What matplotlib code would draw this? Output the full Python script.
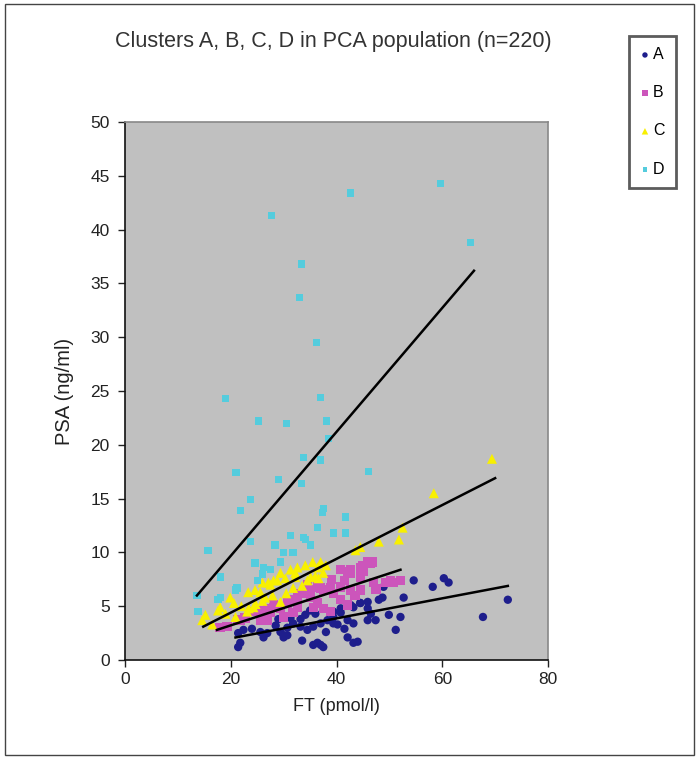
import matplotlib
matplotlib.use('Agg')
import matplotlib.pyplot as plt
from matplotlib.patches import Rectangle


# Clusters A, B, C, D: FT vs PSA scatter with a linear trend line per cluster

title = 'Clusters A, B, C, D in PCA population (n=220)'
labels = ['A', 'B', 'C', 'D']

a_ft = [21.4, 21.8, 22.4, 21.4, 25.6, 26.9, 29.4, 30.0, 30.7, 26.2, 30.0, 30.7,
        31.8, 33.2, 34.5, 35.6, 37.0, 38.3, 39.4, 40.8, 43.2, 44.5, 45.9, 35.6,
        37.0, 42.1, 43.2, 40.2, 39.4, 40.8, 42.7, 44.5, 45.9, 39.4, 42.1, 43.2,
        45.9, 47.4, 48.0, 48.9, 52.7, 49.9, 52.1, 51.2, 54.6, 58.2, 60.3, 61.2,
        67.7, 72.4, 48.7, 36.4, 37.5, 44.0, 33.2, 34.1, 31.3, 28.5, 24.0, 36.0,
        38.0, 41.5, 46.5, 33.5, 35.0, 29.0]
a_psa = [1.2, 1.6, 2.8, 2.5, 2.6, 2.5, 2.6, 2.1, 2.3, 2.1, 2.3, 3.0,
         3.4, 3.1, 2.8, 3.1, 3.4, 3.7, 4.0, 4.4, 4.9, 5.3, 5.4, 1.4,
         1.4, 2.1, 1.6, 3.3, 4.5, 4.8, 5.1, 5.3, 4.8, 3.4, 3.7, 3.4,
         3.7, 3.7, 5.6, 6.8, 5.8, 4.2, 4.0, 2.8, 7.4, 6.8, 7.6, 7.2,
         4.0, 5.6, 5.8, 1.6, 1.2, 1.7, 3.8, 4.2, 3.9, 3.2, 2.9, 4.3,
         2.6, 2.9, 4.3, 1.8, 4.6, 3.8]

b_ft = [21.8, 25.6, 27.5, 29.4, 31.3, 33.2, 35.1, 37.0, 38.9, 40.8, 42.7, 44.5,
        45.9, 31.8, 36.4, 42.1, 45.1, 46.4, 44.9, 42.7, 44.5, 47.0, 49.3, 50.8,
        36.4, 37.5, 39.4, 33.7, 35.1, 32.6, 40.8, 42.1, 35.6, 37.5, 38.9, 46.8,
        40.8, 42.7, 44.5, 50.2, 52.1, 21.4, 22.7, 24.1, 25.6, 26.9, 28.1, 29.4,
        30.7, 31.8, 32.6, 18.0, 19.3, 26.9, 34.5, 39.0, 41.5, 43.5, 47.5, 30.0]
b_psa = [3.7, 3.7, 4.4, 4.8, 5.6, 6.2, 6.5, 6.7, 6.7, 6.8, 8.4, 8.6,
         9.1, 4.4, 5.3, 8.2, 8.2, 9.0, 8.8, 6.5, 6.5, 7.2, 7.2, 7.2,
         6.8, 6.5, 6.2, 6.2, 5.8, 4.9, 5.6, 5.1, 4.9, 4.8, 4.5, 9.1,
         8.4, 8.1, 7.7, 7.4, 7.4, 3.7, 3.9, 4.5, 4.6, 4.8, 5.1, 4.9,
         5.3, 5.6, 5.8, 3.0, 3.1, 3.7, 7.0, 7.5, 7.4, 6.0, 6.6, 4.0]

c_ft = [14.6, 15.2, 17.6, 18.0, 19.9, 20.6, 23.3, 24.6, 26.0, 27.1, 23.1, 24.3,
        26.5, 28.1, 29.4, 31.3, 32.2, 29.4, 16.5, 20.9, 25.6, 27.9, 27.5, 28.8,
        30.3, 32.2, 32.6, 34.1, 35.5, 37.0, 37.5, 23.4, 24.7, 35.1, 36.6, 44.5,
        36.4, 31.8, 48.0, 52.5, 51.8, 43.6, 58.4, 69.4, 34.5, 22.0, 33.5, 30.5,
        26.0, 19.0, 36.0, 38.0]
c_psa = [3.7, 4.2, 4.6, 4.9, 5.8, 5.3, 6.3, 6.5, 7.2, 7.2, 4.5, 4.9,
         5.8, 7.4, 8.1, 8.4, 8.1, 5.4, 3.3, 4.0, 6.3, 6.0, 7.0, 7.4,
         7.6, 7.7, 8.6, 8.8, 9.1, 9.1, 8.1, 4.8, 5.2, 7.7, 7.6, 10.5,
         8.6, 6.7, 11.0, 12.3, 11.2, 10.2, 15.5, 18.7, 7.4, 5.0, 6.9, 6.2,
         5.5, 4.3, 7.8, 8.8]

d_ft = [27.7, 42.7, 59.7, 65.4, 33.4, 33.0, 36.2, 19.0, 37.0, 25.2, 30.5, 38.1,
        38.5, 21.0, 29.0, 33.7, 37.0, 33.4, 46.1, 23.7, 21.8, 31.3, 37.5, 37.3,
        41.7, 36.4, 39.4, 41.7, 33.7, 15.7, 18.0, 13.6, 13.8, 18.0, 21.2, 23.7,
        24.6, 26.2, 27.5, 28.4, 30.0, 31.8, 34.1, 35.1, 25.0, 29.4, 17.6, 20.9,
        26.0]
d_psa = [41.3, 43.4, 44.3, 38.8, 36.8, 33.7, 29.5, 24.3, 24.4, 22.2, 22.0, 22.2,
         20.6, 17.4, 16.8, 18.8, 18.6, 16.4, 17.5, 14.9, 13.9, 11.6, 14.1, 13.7,
         13.3, 12.3, 11.8, 11.8, 11.4, 10.2, 7.7, 6.0, 4.5, 5.8, 6.7, 11.0,
         9.0, 8.6, 8.4, 10.7, 10.0, 10.0, 11.2, 10.7, 7.4, 9.1, 5.6, 6.5,
         8.0]

# linear trend lines (start FT, end FT, slope, intercept) per cluster
trend_start = [20.9, 17.4, 14.8, 13.6]
trend_end = [72.4, 52.1, 70.0, 66.0]
trend_slope = [0.093, 0.161, 0.25, 0.576]
trend_intercept = [0.15, 0.0, -0.6, -1.84]

colors = ['#1E1E8C', '#CC55BB', '#F8F000', '#55CCDD']
markers = ['o', 's', '^', 's']
sizes = [36, 46, 52, 28]

plt.rcParams['font.family'] = ['Liberation Sans Narrow', 'Liberation Sans', 'DejaVu Sans']

fig = plt.figure(figsize=(6.99, 7.59), dpi=100)
fig.patch.set_facecolor('white')
fig.patches.append(Rectangle((5 / 699, 4 / 759), 689 / 699, 751 / 759,
                             transform=fig.transFigure, fill=False,
                             edgecolor='#444444', linewidth=1))

ax = fig.add_axes([125 / 699, 1 - 660 / 759, 423 / 699, 538 / 759])
ax.set_facecolor('#C0C0C0')

series = [(a_ft, a_psa), (b_ft, b_psa), (c_ft, c_psa), (d_ft, d_psa)]
handles = []
for (xs, ys), lab, col, mk, sz in zip(series, labels, colors, markers, sizes):
    h = ax.scatter(xs, ys, s=sz, c=col, marker=mk, edgecolors='none',
                   label=lab, zorder=2)
    handles.append(h)

for x0, x1, m, b in zip(trend_start, trend_end, trend_slope, trend_intercept):
    ax.plot([x0, x1], [m * x0 + b, m * x1 + b], color='black',
            linewidth=1.8, zorder=3)

ax.set_xlim(0, 80)
ax.set_ylim(0, 50)
ax.set_xticks(range(0, 81, 20))
ax.set_yticks(range(0, 51, 5))
ax.tick_params(axis='both', direction='out', length=5, width=1,
               labelsize=12.5, colors='#222222')
ax.tick_params(axis='y', pad=6)

for side in ['left', 'bottom']:
    ax.spines[side].set_color('#111111')
    ax.spines[side].set_linewidth(1.2)
for side in ['top', 'right']:
    ax.spines[side].set_color('#888888')
    ax.spines[side].set_linewidth(1.2)

ax.set_xlabel('FT (pmol/l)', fontsize=13, color='#222222', labelpad=8)
ax.set_ylabel('PSA (ng/ml)', fontsize=14.5, color='#222222', labelpad=12)

fig.text(333 / 699, 1 - 42 / 759, title, fontsize=15.5, color='#333333',
         ha='center', va='center')

leg = fig.legend(handles=handles, loc='upper left',
                 bbox_to_anchor=(621 / 699, 1 - 28 / 759),
                 fontsize=11.5, frameon=True, fancybox=False,
                 labelspacing=1.45, handlelength=0.6, handletextpad=0.2,
                 borderpad=0.7, markerscale=0.65)
leg.get_frame().set_edgecolor('#333333')
leg.get_frame().set_linewidth(2)

plt.savefig('out.png', dpi=100)
plt.close()
